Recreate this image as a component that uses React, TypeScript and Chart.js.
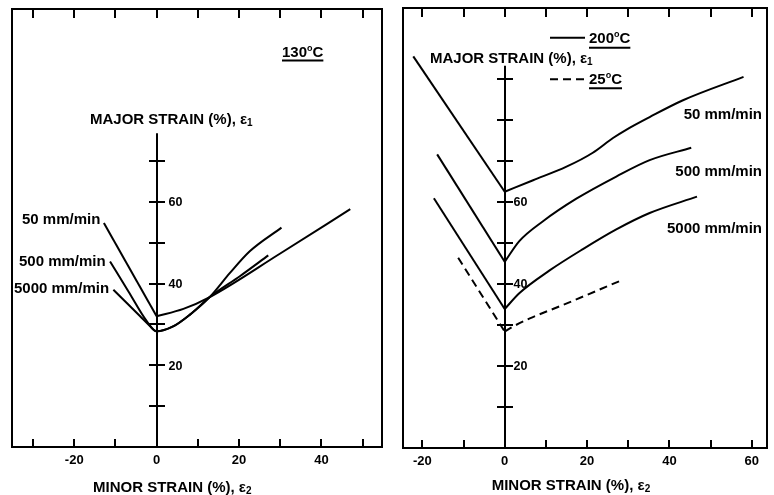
import React, { useEffect, useRef } from "react";
import { Chart, registerables } from "chart.js";

Chart.register(...registerables);

const FONT = '"Liberation Sans", Arial, Helvetica, sans-serif';

// ---------- Panel A : 130 °C ----------
const a50X = [-12.8, 0, 6.5, 12.9, 29.9, 47.0];
const a50Y = [54.8, 32.0, 33.8, 36.7, 47.3, 58.2];
const a500X = [-11.3, -6.8, -2.4, 0, 4.0, 8.1, 12.9, 17.8, 22.6, 30.3];
const a500Y = [45.4, 38.0, 30.8, 28.3, 29.5, 32.4, 36.7, 42.6, 47.9, 53.7];
const a5000X = [-10.5, -7.3, -4.0, -2.0, 0, 4.0, 8.1, 12.9, 20.2, 27.1];
const a5000Y = [38.5, 35.3, 32.0, 30.0, 28.3, 29.5, 32.4, 36.7, 41.8, 46.9];
const aYTicks = [10, 20, 30, 40, 50, 60, 70];
const aYLabels = [20, 40, 60];

// ---------- Panel B : 200 °C / 25 °C ----------
const b50X = [-22.2, 0, 6.9, 15.0, 21.4, 26.3, 29.5, 35.2, 43.3, 58.0];
const b50Y = [95.5, 62.5, 65.3, 68.6, 72.0, 75.6, 77.6, 80.7, 84.8, 90.5];
const b500X = [-16.4, 0, 3.6, 9.3, 17.4, 27.1, 35.2, 45.3];
const b500Y = [71.6, 45.4, 50.5, 55.3, 60.8, 66.2, 70.2, 73.2];
const b5000X = [-17.2, 0, 3.6, 10.9, 19.0, 27.1, 35.2, 46.7];
const b5000Y = [60.9, 33.9, 37.8, 43.3, 48.5, 53.3, 57.3, 61.3];
const b25X = [-11.3, 0, 2.0, 6.1, 14.2, 27.9];
const b25Y = [46.4, 28.4, 29.6, 31.6, 34.9, 40.7];
const bYTicks = [10, 20, 30, 40, 50, 60, 70, 80, 90];
const bYLabels = [20, 40, 60];

const zip = (xs: number[], ys: number[]) => xs.map((x, i) => ({ x, y: ys[i] }));

type Part = [string, number, number];

function drawRuns(ctx: CanvasRenderingContext2D, parts: Part[], x: number, y: number, align: "left" | "right" = "left") {
  let total = 0;
  const widths: number[] = [];
  for (const [t, s] of parts) {
    ctx.font = `bold ${s}px ${FONT}`;
    const w = ctx.measureText(t).width;
    widths.push(w);
    total += w;
  }
  let cx = align === "right" ? x - total : x;
  const x0 = cx;
  ctx.textAlign = "left";
  ctx.textBaseline = "alphabetic";
  parts.forEach(([t, s, dy], i) => {
    ctx.font = `bold ${s}px ${FONT}`;
    ctx.fillText(t, cx, y + dy);
    cx += widths[i];
  });
  return { x0, x1: cx };
}

function line(ctx: CanvasRenderingContext2D, x1: number, y1: number, x2: number, y2: number) {
  ctx.beginPath();
  ctx.moveTo(x1, y1);
  ctx.lineTo(x2, y2);
  ctx.stroke();
}

type PanelDef = {
  id: string;
  left: number;
  width: number;
  padding: { left: number; right: number; top: number; bottom: number };
  axisHeight: number;
  xMin: number;
  xMax: number;
  yMax: number;
  yAxisTop: number;
  yTicks: number[];
  yLabels: number[];
  yLabelOffset: number;
  datasets: any[];
  annotate: (ctx: CanvasRenderingContext2D, chart: any) => void;
};

const style = (data: any[], mono: boolean, dash: number[] = []) => ({
  data,
  borderColor: "#000",
  borderWidth: 2,
  borderDash: dash,
  pointRadius: 0,
  fill: false,
  tension: 0,
  cubicInterpolationMode: mono ? "monotone" : "default",
});

// a curve with a sharp vertex at x = 0: straight left branch, smooth right branch
const vCurve = (xs: number[], ys: number[], dash: number[] = []) => {
  const v = xs.indexOf(0);
  return [
    style(zip(xs.slice(0, v + 1), ys.slice(0, v + 1)), false, dash),
    style(zip(xs.slice(v), ys.slice(v)), true, dash),
  ];
};

const panelA: PanelDef = {
  id: "a",
  left: 0,
  width: 392,
  padding: { left: 12, right: 10, top: 9, bottom: 0 },
  axisHeight: 48,
  xMin: -35.1,
  xMax: 54.7,
  yMax: 107.2,
  yAxisTop: 76.8,
  yTicks: aYTicks,
  yLabels: aYLabels,
  yLabelOffset: 11.5,
  datasets: [
    ...vCurve(a50X, a50Y),
    style(zip(a500X, a500Y), true),
    style(zip(a5000X, a5000Y), true),
  ],
  annotate: (ctx) => {
    drawRuns(ctx, [["MAJOR STRAIN (%), ε", 15, 0], ["1", 10, 2]], 90, 123.5);
    const r = drawRuns(ctx, [["130", 15, 0], ["o", 9, -6], ["C", 15, 0]], 282, 57);
    ctx.lineWidth = 2;
    line(ctx, r.x0, 60.5, r.x1, 60.5);
    drawRuns(ctx, [["50 mm/min", 15, 0]], 22, 224);
    drawRuns(ctx, [["500 mm/min", 15, 0]], 19, 266);
    drawRuns(ctx, [["5000 mm/min", 15, 0]], 14, 293);
    drawRuns(ctx, [["MINOR STRAIN (%), ε", 15, 0], ["2", 10, 2]], 93, 491.5);
  },
};

const panelB: PanelDef = {
  id: "b",
  left: 392,
  width: 382,
  padding: { left: 11, right: 7, top: 8, bottom: 0 },
  axisHeight: 47,
  xMin: -24.7,
  xMax: 63.7,
  yMax: 107.3,
  yAxisTop: 93.2,
  yTicks: bYTicks,
  yLabels: bYLabels,
  yLabelOffset: 8.5,
  datasets: [
    ...vCurve(b50X, b50Y),
    ...vCurve(b500X, b500Y),
    ...vCurve(b5000X, b5000Y),
    ...vCurve(b25X, b25Y, [8, 5]),
  ],
  annotate: (ctx) => {
    drawRuns(ctx, [["MAJOR STRAIN (%), ε", 15, 0], ["1", 10, 2]], 38, 63.3);
    ctx.lineWidth = 2;
    line(ctx, 158, 37.7, 193, 37.7);
    const r1 = drawRuns(ctx, [["200", 15, 0], ["o", 9, -6], ["C", 15, 0]], 197, 42.7);
    line(ctx, r1.x0, 47.7, r1.x1, 47.7);
    ctx.setLineDash([8, 5]);
    line(ctx, 158, 79.3, 193, 79.3);
    ctx.setLineDash([]);
    const r2 = drawRuns(ctx, [["25", 15, 0], ["o", 9, -6], ["C", 15, 0]], 197, 84.3);
    line(ctx, r2.x0, 88.3, r2.x1, 88.3);
    drawRuns(ctx, [["50 mm/min", 15, 0]], 370, 119.3, "right");
    drawRuns(ctx, [["500 mm/min", 15, 0]], 370, 176, "right");
    drawRuns(ctx, [["5000 mm/min", 15, 0]], 370, 232.7, "right");
    drawRuns(ctx, [["MINOR STRAIN (%), ε", 15, 0], ["2", 10, 2]], 99.7, 490);
  },
};

function makePlugin(p: PanelDef) {
  return {
    id: "frame_" + p.id,
    afterDatasetsDraw(chart: any) {
      const ctx: CanvasRenderingContext2D = chart.ctx;
      const { left, right, top, bottom } = chart.chartArea;
      const xs = chart.scales.x;
      const ys = chart.scales.y;
      ctx.save();
      ctx.strokeStyle = "#000";
      ctx.fillStyle = "#000";
      ctx.lineWidth = 2;
      ctx.setLineDash([]);
      ctx.strokeRect(left, top, right - left, bottom - top);
      for (const t of xs.ticks) {
        const px = Math.round(xs.getPixelForValue(t.value));
        line(ctx, px, bottom, px, bottom - 8);
        line(ctx, px, top, px, top + 9);
      }
      const x0 = Math.round(xs.getPixelForValue(0));
      line(ctx, x0, ys.getPixelForValue(p.yAxisTop), x0, bottom);
      for (const v of p.yTicks) {
        const py = Math.round(ys.getPixelForValue(v));
        line(ctx, x0 - 8, py, x0 + 8, py);
      }
      ctx.font = `bold 12.5px ${FONT}`;
      ctx.textAlign = "left";
      ctx.textBaseline = "alphabetic";
      for (const v of p.yLabels) {
        const py = ys.getPixelForValue(v);
        ctx.fillText(String(v), x0 + p.yLabelOffset, py + 4.5);
      }
      p.annotate(ctx, chart);
      ctx.restore();
    },
  };
}

function Panel({ p }: { p: PanelDef }) {
  const ref = useRef<HTMLCanvasElement>(null);
  useEffect(() => {
    const chart = new Chart(ref.current as HTMLCanvasElement, {
      type: "line",
      data: { datasets: p.datasets },
      options: {
        animation: false,
        responsive: false,
        devicePixelRatio: 1,
        layout: { padding: p.padding },
        plugins: { legend: { display: false }, tooltip: { enabled: false } },
        scales: {
          x: {
            type: "linear",
            min: p.xMin,
            max: p.xMax,
            grid: { display: false, drawTicks: false },
            border: { display: false },
            ticks: {
              stepSize: 10,
              includeBounds: false,
              autoSkip: false,
              maxRotation: 0,
              padding: 6,
              color: "#000",
              font: { family: FONT, size: 13, weight: "bold" },
              callback: (v: any) => (Number(v) % 20 === 0 ? String(v) : ""),
            },
            afterFit: (s: any) => {
              s.height = p.axisHeight;
            },
          },
          y: { type: "linear", display: false, min: 0, max: p.yMax },
        },
      } as any,
      plugins: [makePlugin(p)],
    });
    return () => chart.destroy();
  }, []);
  return (
    <canvas
      ref={ref}
      width={p.width}
      height={495}
      style={{ position: "absolute", left: p.left, top: 0, width: p.width, height: 495, display: "block" }}
    />
  );
}

export default function App() {
  return (
    <div style={{ position: "absolute", left: 0, top: 0, width: 774, height: 495, background: "#fff" }}>
      <Panel p={panelA} />
      <Panel p={panelB} />
    </div>
  );
}
